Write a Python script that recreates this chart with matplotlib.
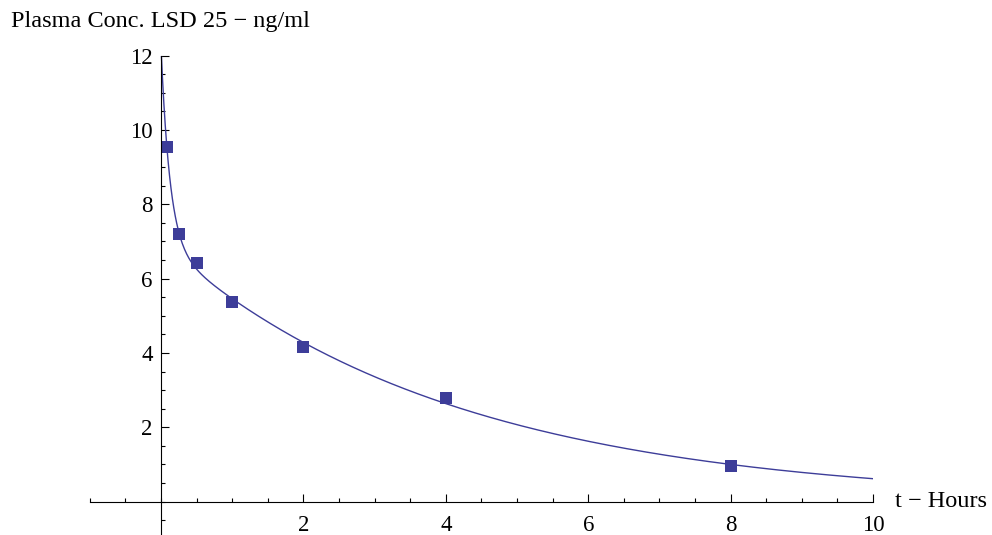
import numpy as np
import matplotlib
matplotlib.use('Agg')
import matplotlib.pyplot as plt
from matplotlib.ticker import FixedLocator, NullFormatter

# plasma concentration of LSD 25 (ng/ml) vs time (hours)
t_hours = [0.0833, 0.25, 0.5, 1.0, 2.0, 4.0, 8.0]
conc = [9.53, 7.2, 6.42, 5.36, 4.16, 2.79, 0.95]

x_ticks = [2, 4, 6, 8, 10]
y_ticks = [2, 4, 6, 8, 10, 12]

# least-squares fit of a two-exponential decay to the points
t = np.array(t_hours)
c = np.array(conc)
best = None
for a in np.linspace(1.0, 40.0, 400):
    for b in np.linspace(0.05, 0.6, 221):
        M = np.column_stack([np.exp(-a * t), np.exp(-b * t)])
        coef, *_ = np.linalg.lstsq(M, c, rcond=None)
        err = np.sum((M @ coef - c) ** 2)
        if best is None or err < best[0]:
            best = (err, a, b, coef)
_, a, b, coef = best
tt = np.linspace(0, 10, 1000)
fit = coef[0] * np.exp(-a * tt) + coef[1] * np.exp(-b * tt)

col = '#3d3d99'
plt.rcParams['font.family'] = ['Liberation Serif', 'DejaVu Serif']
fs = 17.5

fig = plt.figure(figsize=(9.92, 5.35), dpi=100)
ax = fig.add_axes([89.8 / 992, 0, (873 - 89.8) / 992, 1 - 55.7 / 535])
ax.set_xlim(-1.0, 10.0)
ax.set_ylim(-0.9, 12.0)

ax.plot(tt, fit, color=col, lw=1.0, clip_on=True)
ax.plot(t_hours, conc, 's', color=col, ms=9, mew=0, clip_on=False)

for s in ['top', 'right']:
    ax.spines[s].set_visible(False)
ax.spines['left'].set_position(('data', 0))
ax.spines['bottom'].set_position(('data', 0))
for s in ['left', 'bottom']:
    ax.spines[s].set_linewidth(0.8)

ax.xaxis.set_major_locator(FixedLocator(x_ticks))
ax.xaxis.set_minor_locator(FixedLocator(np.arange(-1.0, 10.01, 0.5)))
ax.yaxis.set_major_locator(FixedLocator(y_ticks))
ax.yaxis.set_minor_locator(FixedLocator(np.arange(-0.5, 12.01, 0.5)))
ax.set_xticklabels([str(v) for v in x_ticks])
ax.set_yticklabels([str(v) for v in y_ticks])
ax.xaxis.set_minor_formatter(NullFormatter())
ax.yaxis.set_minor_formatter(NullFormatter())
ax.tick_params(which='both', direction='in', labelsize=16.5, width=0.8)
ax.tick_params(which='major', length=5.8)
ax.tick_params(which='minor', length=3.2)
ax.tick_params(axis='x', pad=10)
ax.tick_params(axis='y', pad=6)

fig.text(11 / 992, 1 - 27 / 535, 'Plasma Conc. LSD 25 \u2212 ng/ml', fontsize=fs,
         ha='left', va='baseline')
ax.text(10.31, 0, 't \u2212 Hours', fontsize=fs, ha='left', va='center')

fig.savefig('out.png', dpi=100)
